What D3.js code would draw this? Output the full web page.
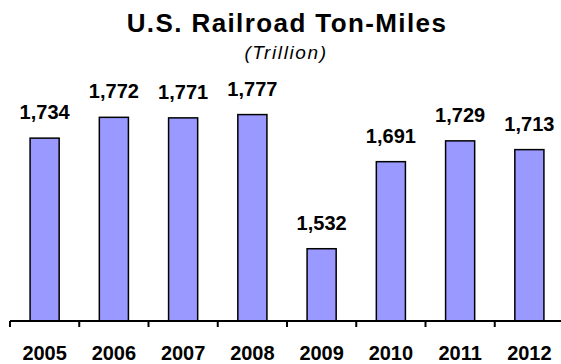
<!DOCTYPE html>
<html>
<head>
<meta charset="utf-8">
<script src="https://cdn.jsdelivr.net/npm/d3@7"></script>
<style>
  html, body { margin: 0; padding: 0; background: #ffffff; }
  svg { display: block; font-family: "Liberation Sans", Arial, sans-serif; }
</style>
</head>
<body>
<svg id="chart" width="561" height="364"></svg>
<script>
// Annual U.S. railroad ton-miles
const years = ["2005", "2006", "2007", "2008", "2009", "2010", "2011", "2012"];
const tonMiles = [1734, 1772, 1771, 1777, 1532, 1691, 1729, 1713];
const yDomain = [1400, 1800];

const svg = d3.select("#chart");
const baseY = 321;

const x = d3.scaleBand()
  .domain(years)
  .range([10, 564])
  .paddingInner(0.58)
  .paddingOuter(0.29);

const y = d3.scaleLinear()
  .domain(yDomain)
  .range([baseY, 102]);

const step = x.step();
const gap = (step - x.bandwidth()) / 2;

// Title and unit
svg.append("text")
  .attr("x", 287).attr("y", 32)
  .attr("text-anchor", "middle")
  .style("font-size", "26px").style("font-weight", "bold")
  .style("letter-spacing", "1.4px")
  .attr("fill", "#000")
  .text("U.S. Railroad Ton-Miles");

svg.append("text")
  .attr("x", 286).attr("y", 59)
  .attr("text-anchor", "middle")
  .style("font-size", "19px").style("font-style", "italic")
  .style("letter-spacing", "1.6px")
  .attr("fill", "#000")
  .text("(Trillion)");

// Bars
svg.append("g").selectAll("rect")
  .data(years.map((yr, i) => ({ yr, v: tonMiles[i] })))
  .join("rect")
  .attr("x", d => x(d.yr))
  .attr("y", d => y(d.v))
  .attr("width", x.bandwidth())
  .attr("height", d => baseY - y(d.v))
  .attr("fill", "#9999ff")
  .attr("stroke", "#000")
  .attr("stroke-width", 1.5);

// Value labels
svg.append("g").selectAll("text")
  .data(years.map((yr, i) => ({ yr, v: tonMiles[i] })))
  .join("text")
  .attr("x", d => x(d.yr) + x.bandwidth() / 2)
  .attr("y", d => y(d.v) - 19)
  .attr("text-anchor", "middle")
  .style("font-size", "20px").style("font-weight", "bold")
  .attr("fill", "#000")
  .text(d => d3.format(",")(d.v));

// Category axis: baseline with ticks between categories
const axis = svg.append("g");
axis.append("line")
  .attr("x1", 10).attr("x2", 561)
  .attr("y1", baseY).attr("y2", baseY)
  .attr("stroke", "#000").attr("stroke-width", 2);

const boundaries = years.map(yr => x(yr) - gap).concat([x(years[years.length - 1]) + x.bandwidth() + gap]);
axis.selectAll("line.tick")
  .data(boundaries)
  .join("line")
  .attr("class", "tick")
  .attr("x1", d => d).attr("x2", d => d)
  .attr("y1", baseY).attr("y2", baseY + 6)
  .attr("stroke", "#000").attr("stroke-width", 2);

axis.selectAll("text")
  .data(years)
  .join("text")
  .attr("x", d => x(d) + x.bandwidth() / 2)
  .attr("y", 360)
  .attr("text-anchor", "middle")
  .style("font-size", "20px").style("font-weight", "bold")
  .attr("fill", "#000")
  .text(d => d);
</script>
</body>
</html>
